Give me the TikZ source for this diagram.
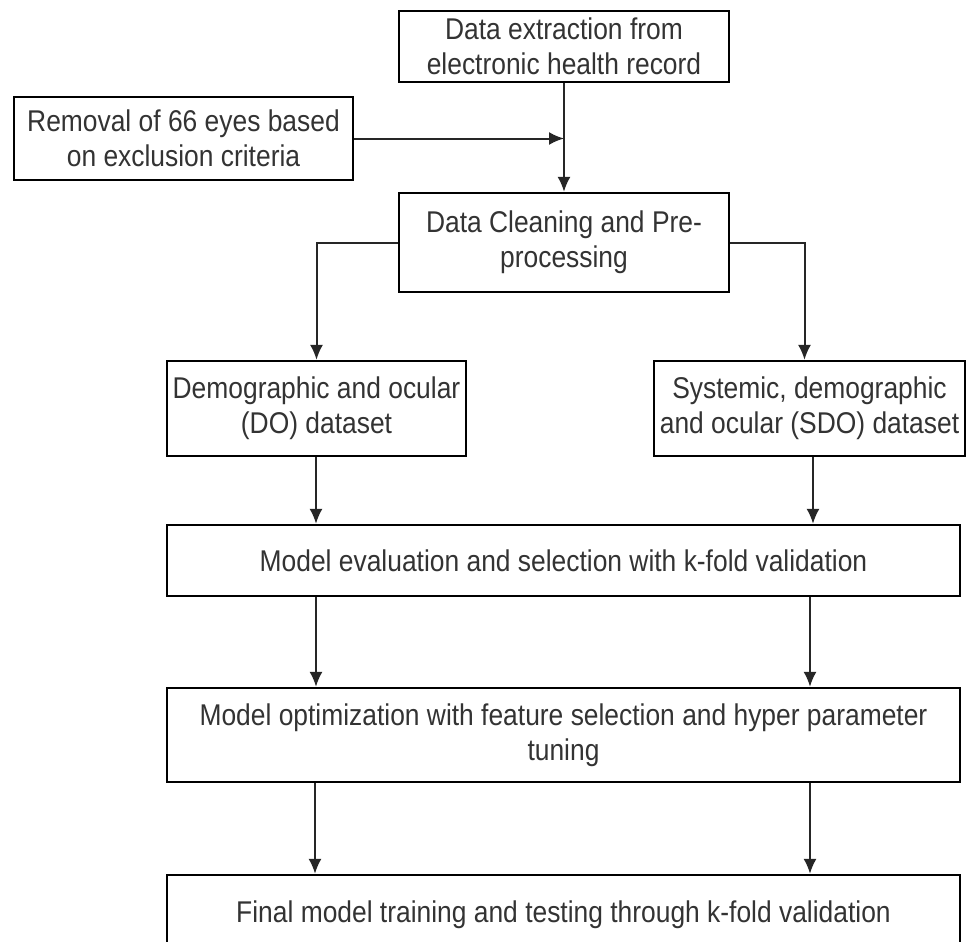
\documentclass[tikz,border=0pt]{standalone}
\usepackage{fontspec}
\setmainfont[FakeStretch=0.88]{Liberation Sans}
\usetikzlibrary{calc,arrows.meta}

\begin{document}
\begin{tikzpicture}[x=0.5pt,y=-0.5pt,
    stage/.style={draw,line width=1.1pt,align=center,inner sep=0pt,
      font=\fontsize{15}{17.5}\selectfont,text=black!80},
    link/.style={line width=1pt,draw=black!85,-{Latex[length=7.5pt,width=6.5pt]}}]
    \useasboundingbox (0,0) rectangle (971,942);

    % top part
    \node[stage,minimum width=165pt,minimum height=35.5pt] (extract) at (564,46.5)
        {Data extraction from\\electronic health record};
    \node[stage,minimum width=169.5pt,minimum height=41.5pt] (removal) at (183.5,138.5)
        {Removal of 66 eyes based\\on exclusion criteria};
    \node[stage,minimum width=165pt,minimum height=49.5pt] (clean) at (564,242.5)
        {Data Cleaning and Pre-\\processing};

    % the two datasets
    \node[stage,minimum width=149.5pt,minimum height=47.5pt] (do) at (316.5,408.5)
        {Demographic and ocular\\(DO) dataset};
    \node[stage,minimum width=155.5pt,minimum height=47.5pt] (sdo) at (809.5,408.5)
        {Systemic, demographic\\and ocular (SDO) dataset};

    % wide stages
    \node[stage,minimum width=396.5pt,minimum height=35.5pt] (eval) at (563.5,560.5)
        {Model evaluation and selection with k-fold validation};
    \node[stage,minimum width=396.5pt,minimum height=47pt] (opt) at (563.5,735)
        {Model optimization with feature selection and hyper parameter\\tuning};
    \node[stage,minimum width=396.5pt,minimum height=40pt] (final) at (563.5,915)
        {Final model training and testing through k-fold validation};

    \coordinate (join) at (extract.south |- removal.east);
    \draw[link] (extract) -- (clean);
    \draw[link] (removal) -- (join);

    \draw[link] (clean.west) -| (do.north);
    \draw[link] (clean.east) -| ($ (sdo.north) + (-5,0) $);

    % two arrows between each pair of stages
    \foreach \src/\dst/\xpos in {do/eval/316,sdo/eval/813,eval/opt/316,eval/opt/810,opt/final/315,opt/final/810} {
        \coordinate (col) at (\xpos,0);
        \draw[link] (col |- \src.south) -- (col |- \dst.north);
    }
\end{tikzpicture}
\end{document}
